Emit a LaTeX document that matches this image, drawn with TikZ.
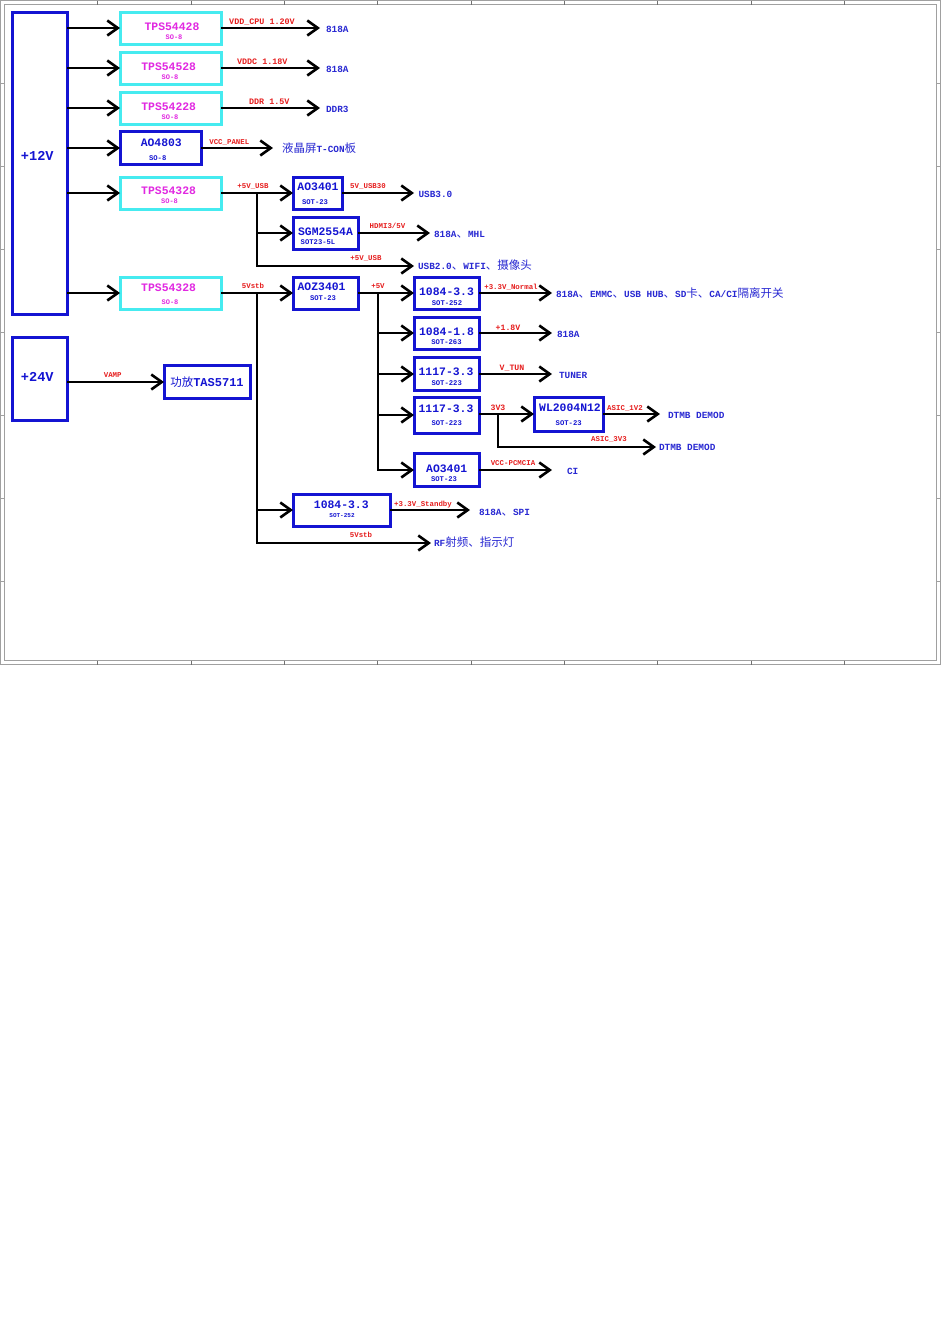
\documentclass[tikz,border=0pt]{standalone}
\usepackage{fontspec}
\setmainfont{Liberation Mono}
\newfontfamily\zhf{Noto Sans CJK SC}
\usetikzlibrary{arrows.meta}
\definecolor{bblue}{RGB}{20,20,210}
\definecolor{bcyan}{RGB}{70,235,240}
\definecolor{tmag}{RGB}{225,40,225}
\definecolor{tred}{RGB}{230,30,30}
\definecolor{tblue}{RGB}{40,40,210}
\definecolor{fgray}{RGB}{160,160,160}
\newcommand\fs[1]{\fontsize{#1}{#1}\selectfont}
\newcommand\zh[1]{{\zhf\mdseries\fontsize{11.5}{12}\selectfont #1}}
\begin{document}
\begin{tikzpicture}[x=1pt,y=-1pt,
  every node/.style={inner sep=0pt, outer sep=0pt},
  blk/.style={draw=bblue, line width=3pt, inner sep=0pt},
  cyk/.style={draw=bcyan, line width=3pt, inner sep=0pt},
  wire/.style={line width=2.6pt, black},
  arr/.style={wire, -{Straight Barb[length=10.5pt,width=15pt]}},
  tx/.style={inner sep=0pt, text height=.66em, text depth=0pt},
  chipn/.style={tx, text=bblue, font=\bfseries\fs{11.4}},
  chipm/.style={tx, text=tmag, font=\bfseries\fs{11.4}},
  pkg/.style={tx, text=bblue, font=\bfseries\fs{7.2}},
  pkgm/.style={tx, text=tmag, font=\bfseries\fs{7}},
  lbl/.style={tx, text=tred, font=\bfseries\fs{7.4}},
  lblb/.style={tx, text=tred, font=\bfseries\fs{8.4}},
  dst/.style={tx, text=tblue, font=\bfseries\fs{9.4}, anchor=west}
]
\fill[white] (0,0) rectangle (950,1344);
\useasboundingbox (0,0) rectangle (950,1344);
% frame
\draw[fgray, line width=0.8pt] (0.5,0.5) rectangle (940.5,664.5);
\draw[fgray, line width=0.8pt] (4.5,4.5) rectangle (936.5,660.5);
\foreach \i in {0,...,8} {
  \draw[fgray!70!black, line width=0.6pt] ({97.7+93.3*\i},0.5) -- ++(0,4);
  \draw[fgray!70!black, line width=0.6pt] ({97.7+93.3*\i},660.5) -- ++(0,4);
}
\foreach \j in {1,...,7} {
  \draw[fgray, line width=0.5pt] (0.5,{83*\j}) -- (4.5,{83*\j});
  \draw[fgray, line width=0.5pt] (936.5,{83*\j}) -- (940.5,{83*\j});
}

% supply boxes
\node[blk, minimum width=55, minimum height=302] (v12) at (39.5,163) {};
\node[chipn, font=\bfseries\fs{13.6}] (v12t) at (37.3,156.7) {+12V};
\node[blk, minimum width=55, minimum height=83] (v24) at (39.5,378.5) {};
\node[chipn, font=\bfseries\fs{13.6}] (v24t) at (37.3,378) {+24V};

% first column
\node[cyk, minimum width=101, minimum height=32] (b1) at (170.5,28) {};
\node[chipm] (b1t) at (172,26.7) {TPS54428};
\node[pkgm] (b1p) at (174,36) {SO-8};
\node[cyk, minimum width=101, minimum height=32] (b2) at (170.5,68) {};
\node[chipm] (b2t) at (168.7,66.7) {TPS54528};
\node[pkgm] (b2p) at (170,76.3) {SO-8};
\node[cyk, minimum width=101, minimum height=32] (b3) at (170.5,108) {};
\node[chipm] (b3t) at (168.7,106.7) {TPS54228};
\node[pkgm] (b3p) at (170,116.3) {SO-8};
\node[blk, minimum width=81, minimum height=33] (b4) at (160.5,148) {};
\node[chipn] (b4t) at (161.3,143.3) {AO4803};
\node[pkg] (b4p) at (157.7,156.7) {SO-8};
\node[cyk, minimum width=101, minimum height=32] (b5) at (170.5,193) {};
\node[chipm] (b5t) at (168.6,191.5) {TPS54328};
\node[pkgm] (b5p) at (169.5,200.5) {SO-8};
\node[cyk, minimum width=101, minimum height=32] (b6) at (170.5,293) {};
\node[chipm] (b6t) at (168.6,288.5) {TPS54328};
\node[pkgm] (b6p) at (170,301) {SO-8};
\node[blk, minimum width=86, minimum height=33] (amp) at (207,382) {};
\node[chipn, font=\bfseries\fs{12}] (ampt) at (207,383.5) {\zh{功放}TAS5711};

% second column
\node[blk, minimum width=49, minimum height=32] (c1) at (317.5,193) {};
\node[chipn] (c1t) at (318,187.3) {AO3401};
\node[pkg] (c1p) at (315,201) {SOT-23};
\node[blk, minimum width=65, minimum height=32] (c2) at (325.5,233) {};
\node[chipn] (c2t) at (325.5,232) {SGM2554A};
\node[pkg] (c2p) at (318,240.7) {SOT23-5L};
\node[blk, minimum width=65, minimum height=32] (c3) at (325.5,293) {};
\node[chipn] (c3t) at (321.6,287.3) {AOZ3401};
\node[pkg] (c3p) at (323,296.7) {SOT-23};
\node[blk, minimum width=97, minimum height=32] (c4) at (341.5,510) {};
\node[chipn] (c4t) at (341.3,505) {1084-3.3};
\node[pkg, font=\bfseries\fs{6}] (c4p) at (342,514.3) {SOT-252};

% third column
\node[blk, minimum width=65, minimum height=32] (d1) at (446.5,293) {};
\node[chipn] (d1t) at (446.5,291.7) {1084-3.3};
\node[pkg] (d1p) at (447,301.7) {SOT-252};
\node[blk, minimum width=65, minimum height=32] (d2) at (446.5,333) {};
\node[chipn] (d2t) at (446.5,332.3) {1084-1.8};
\node[pkg] (d2p) at (446.5,341.3) {SOT-263};
\node[blk, minimum width=65, minimum height=33] (d3) at (446.5,374) {};
\node[chipn] (d3t) at (446,372.3) {1117-3.3};
\node[pkg] (d3p) at (446.7,382.3) {SOT-223};
\node[blk, minimum width=65, minimum height=36] (d4) at (446.5,415) {};
\node[chipn] (d4t) at (446,409) {1117-3.3};
\node[pkg] (d4p) at (446.7,422.3) {SOT-223};
\node[blk, minimum width=65, minimum height=33] (d5) at (446.5,470) {};
\node[chipn] (d5t) at (446.7,469) {AO3401};
\node[pkg] (d5p) at (444,477.7) {SOT-23};
\node[blk, minimum width=69, minimum height=34] (e1) at (568.5,414) {};
\node[chipn] (e1t) at (570,408.3) {WL2004N12};
\node[pkg] (e1p) at (568.7,422.3) {SOT-23};

% arrow end points
\coordinate (t1) at (320,28);
\coordinate (t2) at (320,68);
\coordinate (t3) at (320,108);
\coordinate (t4) at (273,148);
\coordinate (tU3) at (414,193);
\coordinate (tM) at (430,233);
\coordinate (tU2) at (414,266);
\coordinate (tN) at (552,293);
\coordinate (t18) at (552,333);
\coordinate (tT) at (552,374);
\coordinate (tD1) at (660,414);
\coordinate (tD2) at (656,447);
\coordinate (tCI) at (552,470);
\coordinate (tSB) at (470,510);
\coordinate (tRF) at (431,543);
\coordinate (j5) at (257,193);
\coordinate (j6) at (257,293);
\coordinate (j7) at (378,293);
\coordinate (j8) at (498,414);

% connectors
\foreach \b in {b1,b2,b3,b4,b5,b6} \draw[arr] (v12.east |- \b) -- (\b.west);
\draw[arr] (v24.east |- amp) -- (amp.west);
\draw[arr] (b1.east) -- (t1);
\draw[arr] (b2.east) -- (t2);
\draw[arr] (b3.east) -- (t3);
\draw[arr] (b4.east) -- (t4);
\draw[arr] (b5.east) -- (c1.west);
\draw[arr] (j5) |- (c2.west);
\draw[arr] (j5) |- (tU2);
\draw[arr] (c1.east) -- (tU3);
\draw[arr] (c2.east) -- (tM);
\draw[arr] (b6.east) -- (c3.west);
\draw[arr] (j6) |- (c4.west);
\draw[arr] (j6) |- (tRF);
\draw[arr] (c3.east) -- (d1.west);
\foreach \d in {d2,d3,d4,d5} \draw[arr] (j7) |- (\d.west);
\draw[arr] (d1.east) -- (tN);
\draw[arr] (d2.east) -- (t18);
\draw[arr] (d3.east) -- (tT);
\draw[arr] (d4.east |- e1) -- (e1.west);
\draw[arr] (j8) |- (tD2);
\draw[arr] (e1.east) -- (tD1);
\draw[arr] (d5.east) -- (tCI);
\draw[arr] (c4.east) -- (tSB);

% wire labels
\node[lblb] (l1) at (262,20.7) {VDD\_CPU 1.20V};
\node[lblb] (l2) at (262.3,61.3) {VDDC 1.18V};
\node[lblb] (l3) at (269.3,101.3) {DDR 1.5V};
\node[lbl] (l4) at (229.3,141) {VCC\_PANEL};
\node[lbl] (l5) at (253,185) {+5V\_USB};
\node[lbl] (l6) at (368,185) {5V\_USB30};
\node[lbl] (l7) at (387.5,225) {HDMI3/5V};
\node[lbl] (l8) at (366,257) {+5V\_USB};
\node[lbl] (l9) at (253,285.5) {5Vstb};
\node[lbl] (l10) at (378,285) {+5V};
\node[lbl] (l11) at (511,285.7) {+3.3V\_Normal};
\node[lbl, font=\bfseries\fs{8.2}] (l12) at (508,326.7) {+1.8V};
\node[lbl, font=\bfseries\fs{8.2}] (l13) at (512,366.7) {V\_TUN};
\node[lbl, font=\bfseries\fs{8.2}] (l14) at (498,407) {3V3};
\node[lbl] (l15) at (625,406.7) {ASIC\_1V2};
\node[lbl] (l16) at (609,438) {ASIC\_3V3};
\node[lbl] (l17) at (513,462) {VCC-PCMCIA};
\node[lbl] (l18) at (423,503) {+3.3V\_Standby};
\node[lbl] (l19) at (361,534.3) {5Vstb};
\node[lbl] (l20) at (112.7,373.7) {VAMP};

% destinations
\node[dst] (o1) at (326,29.5) {818A};
\node[dst] (o2) at (326,69.5) {818A};
\node[dst] (o3) at (326,109.5) {DDR3};
\node[dst] (o4) at (282,149.5) {\zh{液晶屏}T-CON\zh{板}};
\node[dst] (o5) at (418.5,194) {USB3.0};
\node[dst] (o6) at (434,234.5) {818A\zh{、}MHL};
\node[dst] (o7) at (418,266.5) {USB2.0\zh{、}WIFI\zh{、摄像头}};
\node[dst] (o8) at (556,294.5) {818A\zh{、}EMMC\zh{、}USB HUB\zh{、}SD\zh{卡、}CA/CI\zh{隔离开关}};
\node[dst] (o9) at (557,334) {818A};
\node[dst] (o10) at (559,375) {TUNER};
\node[dst] (o11) at (668,415.5) {DTMB DEMOD};
\node[dst] (o12) at (659,447.5) {DTMB DEMOD};
\node[dst] (o13) at (567,471.5) {CI};
\node[dst] (o14) at (479,512) {818A\zh{、}SPI};
\node[dst] (o15) at (434,543) {RF\zh{射频、指示灯}};
\end{tikzpicture}
\end{document}
